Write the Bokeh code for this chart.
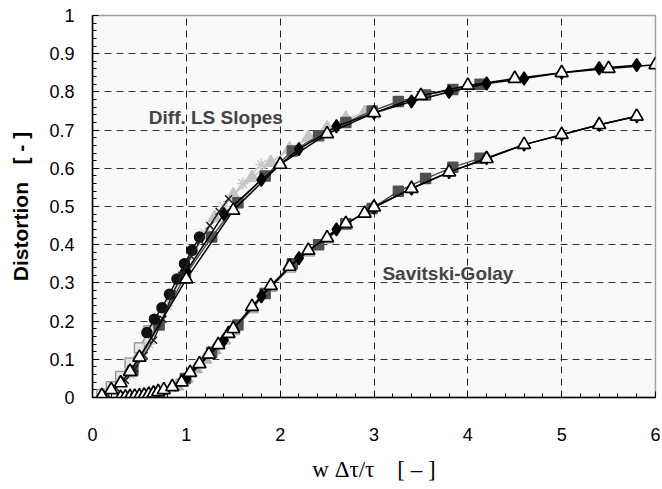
from bokeh.plotting import figure
from bokeh.models import Range1d, SingleIntervalTicker, NumeralTickFormatter, Label
from bokeh.embed import file_html
from bokeh.resources import INLINE

# ---------------- data ----------------
# Diff. LS Slopes group
dl_open_tri_x = [0.1, 0.2, 0.3, 0.4, 0.5, 1.0, 1.5, 2.0, 2.5, 3.0, 3.5, 4.0, 4.5, 5.0, 5.5, 6.0]
dl_open_tri_y = [0.005, 0.02, 0.038, 0.068, 0.105, 0.31, 0.49, 0.61, 0.69, 0.745, 0.79, 0.817, 0.835, 0.85, 0.861, 0.871]

dl_circle_x = [0.58, 0.66, 0.74, 0.82, 0.90, 0.98, 1.06, 1.14]
dl_circle_y = [0.17, 0.205, 0.235, 0.27, 0.31, 0.35, 0.385, 0.42]

dl_cross_x = [0.15, 0.25, 0.35, 0.45, 0.55, 0.65, 0.75, 0.85, 0.95, 1.05, 1.15, 1.25, 1.35, 1.45]
dl_cross_y = [0.01, 0.025, 0.045, 0.075, 0.11, 0.15, 0.205, 0.27, 0.32, 0.37, 0.41, 0.45, 0.487, 0.52]

dl_ltri_x = [1.3, 1.5, 1.7, 1.9, 2.1, 2.3, 2.5, 2.7, 2.9]
dl_ltri_y = [0.47, 0.53, 0.575, 0.615, 0.65, 0.68, 0.705, 0.73, 0.745]

dl_square_x = [0.43, 0.71, 0.99, 1.27, 1.55, 1.84, 2.13, 2.41, 2.70, 2.98, 3.26, 3.55, 3.84, 4.13]
dl_square_y = [0.07, 0.19, 0.32, 0.42, 0.51, 0.58, 0.645, 0.685, 0.72, 0.75, 0.775, 0.792, 0.806, 0.82]

dl_diamond_x = [1.0, 1.4, 1.8, 2.2, 2.6, 3.0, 3.4, 3.8, 4.2, 4.6, 5.0, 5.4, 5.8]
dl_diamond_y = [0.33, 0.48, 0.57, 0.65, 0.71, 0.745, 0.775, 0.80, 0.822, 0.835, 0.85, 0.862, 0.87]

dl_star_x = [0.2, 0.4, 0.6, 0.8, 1.0, 1.2, 1.4, 1.6, 1.8]
dl_star_y = [0.02, 0.06, 0.14, 0.24, 0.34, 0.43, 0.50, 0.56, 0.61]

dl_lsq_x = [0.1, 0.2, 0.3, 0.4, 0.5, 0.6]
dl_lsq_y = [0.008, 0.028, 0.055, 0.09, 0.13, 0.175]

# Savitski-Golay group
sg_open_tri_x = [0.3, 0.35, 0.4, 0.45, 0.5, 0.55, 0.6, 0.65, 0.7, 0.76, 0.85, 0.95, 1.04, 1.14, 1.24,
                 1.34, 1.45, 1.5, 1.7, 1.9, 2.1, 2.3, 2.5, 2.7, 2.9, 3.0, 3.4, 3.8, 4.2, 4.6, 5.0, 5.4, 5.8]
sg_open_tri_y = [0.0, 0.001, 0.002, 0.003, 0.004, 0.006, 0.008, 0.011, 0.015, 0.02, 0.028, 0.04, 0.065, 0.088,
                 0.113, 0.138, 0.167, 0.18, 0.238, 0.293, 0.343, 0.385, 0.418, 0.455, 0.482, 0.498, 0.547,
                 0.59, 0.625, 0.662, 0.688, 0.714, 0.736]

sg_ltri_x = [0.9, 1.0, 1.1, 1.2, 1.3, 1.4, 1.5, 1.7, 1.9, 2.1, 2.3, 2.5, 2.7]
sg_ltri_y = [0.03, 0.05, 0.075, 0.1, 0.125, 0.15, 0.175, 0.232, 0.288, 0.338, 0.38, 0.415, 0.45]

sg_square_x = [0.43, 0.71, 0.99, 1.27, 1.55, 1.84, 2.13, 2.41, 2.70, 2.98, 3.26, 3.55, 3.84, 4.13]
sg_square_y = [0.002, 0.013, 0.05, 0.118, 0.19, 0.272, 0.35, 0.40, 0.455, 0.495, 0.54, 0.573, 0.603, 0.626]

sg_diamond_x = [1.0, 1.4, 1.8, 2.2, 2.6, 3.0, 3.4, 3.8, 4.2, 4.6, 5.0, 5.4, 5.8]
sg_diamond_y = [0.05, 0.15, 0.265, 0.365, 0.44, 0.498, 0.547, 0.59, 0.627, 0.662, 0.688, 0.714, 0.736]

sg_cross_x = [0.35, 0.45, 0.55, 0.65, 0.75, 0.85, 0.95, 1.05, 1.15, 1.25, 1.35, 1.45]
sg_cross_y = [0.0, 0.002, 0.005, 0.009, 0.016, 0.026, 0.04, 0.063, 0.088, 0.113, 0.14, 0.167]

NB = "\u00a0"
x_label = "w" + NB + "Δτ/τ" + NB * 4 + "[" + NB + "–" + NB + "]"
y_label = "Distortion" + NB * 3 + "[" + NB + "-" + NB + "]"

# ---------------- figure ----------------
p = figure(width=662, height=489, output_backend="svg", toolbar_location=None,
           x_range=Range1d(0, 6), y_range=Range1d(0, 1),
           min_border_left=92, min_border_right=7, min_border_top=15, min_border_bottom=92)
p.background_fill_color = "#f9f9f9"
p.border_fill_color = "white"
p.outline_line_color = "#a0a0a0"
p.outline_line_width = 1.5

p.xaxis.ticker = SingleIntervalTicker(interval=1, num_minor_ticks=5)
p.yaxis.ticker = SingleIntervalTicker(interval=0.1, num_minor_ticks=5)
p.yaxis.formatter = NumeralTickFormatter(format="0.[0]")
for ax in (p.xaxis, p.yaxis):
    ax.axis_line_color = "black"
    ax.axis_line_width = 1.5
    ax.major_tick_in = 6
    ax.major_tick_out = 0
    ax.minor_tick_in = 4
    ax.minor_tick_out = 0
    ax.major_tick_line_color = "black"
    ax.minor_tick_line_color = "black"
    ax.major_label_text_font = "Liberation Sans"
    ax.major_label_text_font_size = "18px"
    ax.major_label_text_color = "black"
p.xaxis.major_label_standoff = 30
p.yaxis.major_label_standoff = 18

p.yaxis.axis_label = y_label
p.yaxis.axis_label_text_font = "Liberation Sans"
p.yaxis.axis_label_text_font_size = "21px"
p.yaxis.axis_label_text_font_style = "bold"
p.yaxis.axis_label_text_color = "black"
p.yaxis.axis_label_standoff = 14

p.xaxis.axis_label = x_label
p.xaxis.axis_label_text_font = "Liberation Serif"
p.xaxis.axis_label_text_font_size = "23px"
p.xaxis.axis_label_text_font_style = "normal"
p.xaxis.axis_label_text_color = "black"
p.xaxis.axis_label_standoff = 13

p.xgrid.grid_line_color = "#222222"
p.ygrid.grid_line_color = "#333333"
p.xgrid.grid_line_dash = "7 5"
p.ygrid.grid_line_dash = "7 5"
p.xgrid.grid_line_width = 1
p.ygrid.grid_line_width = 1


def series(xs, ys, marker, size, fill, line, lw=1.5, line_color=None):
    p.line(xs, ys, line_color=line_color or line, line_width=1.5)
    p.scatter(xs, ys, marker=marker, size=size, fill_color=fill, line_color=line, line_width=lw)


# Savitski-Golay group
series(sg_ltri_x, sg_ltri_y, "triangle", 13, "#b0b0b0", "#b0b0b0", line_color="#a8a8a8")
series(sg_cross_x, sg_cross_y, "x", 10, None, "#222222")
series(sg_square_x, sg_square_y, "square", 10, "#505050", "#505050")
series(sg_diamond_x, sg_diamond_y, "diamond", 13, "black", "black")
series(sg_open_tri_x, sg_open_tri_y, "triangle", 13, "white", "black", lw=1.7)

# Diff. LS Slopes group
series(dl_lsq_x, dl_lsq_y, "square", 10, "#e6e6e6", "#9a9a9a", line_color="#9a9a9a")
series(dl_star_x, dl_star_y, "asterisk", 12, None, "#c8c8c8")
series(dl_ltri_x, dl_ltri_y, "triangle", 13, "#c4c4c4", "#c4c4c4")
series(dl_square_x, dl_square_y, "square", 10, "#505050", "#505050")
series(dl_diamond_x, dl_diamond_y, "diamond", 13, "black", "black")
series(dl_circle_x, dl_circle_y, "circle", 10, "#111111", "#111111")
series(dl_cross_x, dl_cross_y, "x", 10, None, "#222222")
series(dl_open_tri_x, dl_open_tri_y, "triangle", 13, "white", "black", lw=1.7)

# annotations
p.add_layout(Label(x=0.6, y=0.732, text="Diff. LS Slopes", text_font="Liberation Sans",
                   text_font_size="19px", text_font_style="bold", text_baseline="alphabetic"))
p.add_layout(Label(x=3.09, y=0.325, text="Savitski-Golay", text_font="Liberation Sans",
                   text_font_size="19px", text_font_style="bold", text_baseline="alphabetic"))

open("out.html", "w").write(file_html(p, INLINE))
